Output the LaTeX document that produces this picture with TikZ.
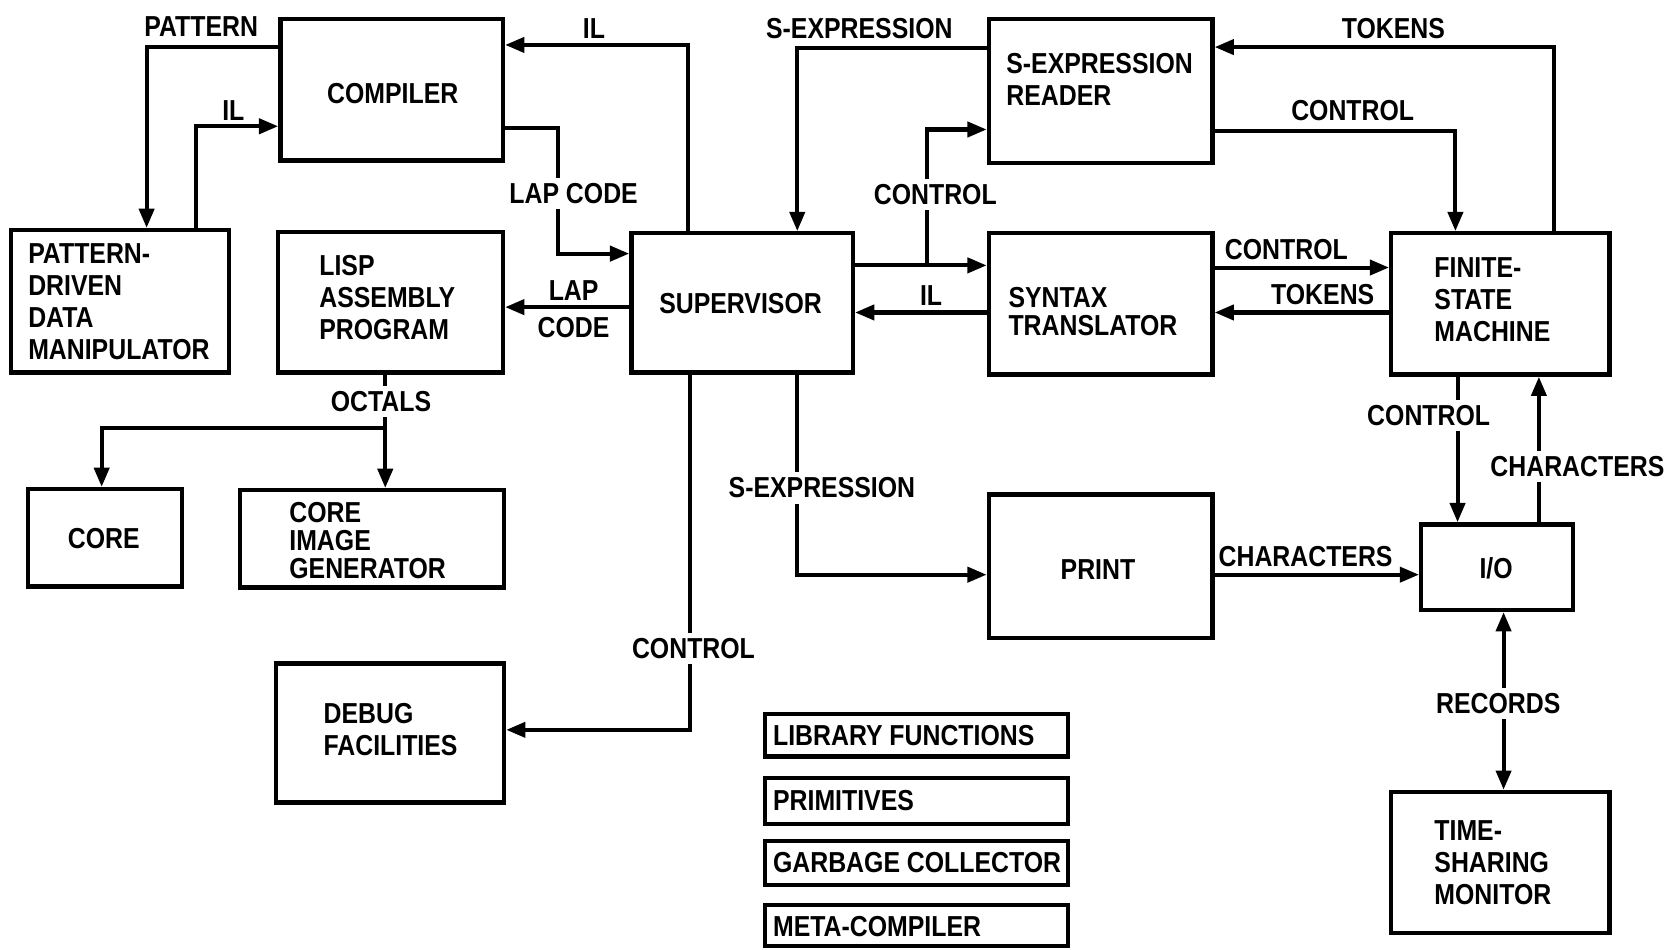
\documentclass[tikz,border=0pt]{standalone}
\usepackage{fontspec}
\setmainfont{Liberation Sans}[FakeStretch=0.86]
\usetikzlibrary{arrows.meta,fit}
\begin{document}
\begin{tikzpicture}[x=0.5pt,y=-0.5pt,
  box/.style={draw, line width=2pt, inner sep=0pt},
  ln/.style={line width=1.9pt},
  arr/.style={ln, -{Triangle[length=9pt,width=7pt]}},
  dbl/.style={ln, {Triangle[length=9pt,width=7pt]}-{Triangle[length=9pt,width=7pt]}},
  txt/.style={font=\fontsize{13.5}{15}\selectfont\bfseries, inner sep=1pt, align=left},
  tighttxt/.style={font=\fontsize{13.5}{13.2}\selectfont\bfseries, inner sep=1pt, align=left},
  lbl/.style={txt, align=center},
  lblw/.style={txt, align=center, fill=white, inner sep=2.5pt}]
\useasboundingbox (0,0) rectangle (1568,887);
% boxes
\node[box, fit={(262,18) (470,150)}] (comp) {};
\node[box, fit={(10,215) (214,348)}] (pddm) {};
\node[box, fit={(260,217) (470,348)}] (lap) {};
\node[box, fit={(590,218) (797,348)}] (sup) {};
\node[box, fit={(924,18) (1133,152)}] (sread) {};
\node[box, fit={(924,218) (1133,350)}] (syn) {};
\node[box, fit={(1300,218) (1504,350)}] (fsm) {};
\node[box, fit={(26,457) (170,548)}] (core) {};
\node[box, fit={(224,458) (471,549)}] (cig) {};
\node[box, fit={(258,620) (471,750)}] (dbg) {};
\node[box, fit={(924,462) (1133,596)}] (prt) {};
\node[box, fit={(1328,490) (1470,570)}] (io) {};
\node[box, fit={(1300,740) (1504,872)}] (tsm) {};
\node[box, fit={(715,667) (998,707)}] (lib) {};
\node[box, fit={(715,727) (998,770)}] (prim) {};
\node[box, fit={(715,786) (998,827)}] (gc) {};
\node[box, fit={(715,846) (998,884)}] (meta) {};
% box texts
\node[txt] (compT) at (367,87) {COMPILER};
\node[txt, anchor=west] (pddmT) at (24,282) {PATTERN-\\DRIVEN\\DATA\\MANIPULATOR};
\node[txt, anchor=west] (lapT) at (296,278) {LISP\\ASSEMBLY\\PROGRAM};
\node[txt] (supT) at (692,284) {SUPERVISOR};
\node[txt, anchor=west] (sreadT) at (938,74) {S-EXPRESSION\\READER};
\node[tighttxt, anchor=west] (synT) at (940,291) {SYNTAX\\TRANSLATOR};
\node[txt, anchor=west] (fsmT) at (1338,280) {FINITE-\\STATE\\MACHINE};
\node[txt] (coreT) at (97,503) {CORE};
\node[tighttxt, anchor=west] (cigT) at (268,505) {CORE\\IMAGE\\GENERATOR};
\node[txt, anchor=west] (dbgT) at (300,682) {DEBUG\\FACILITIES};
\node[txt] (prtT) at (1026,532) {PRINT};
\node[txt] (ioT) at (1398,531) {I/O};
\node[txt, anchor=west] (tsmT) at (1338,806) {TIME-\\SHARING\\MONITOR};
\node[txt, anchor=west] (libT) at (720,687) {LIBRARY FUNCTIONS};
\node[txt, anchor=west] (primT) at (720,748) {PRIMITIVES};
\node[txt, anchor=west] (gcT) at (720,806) {GARBAGE COLLECTOR};
\node[txt, anchor=west] (metaT) at (720,866) {META-COMPILER};
% connectors
\coordinate (c1) at (137,44);
\draw[arr] (comp.west |- c1) -- (c1) -- (pddm.north -| c1);
\coordinate (c2) at (183,118);
\draw[arr] (pddm.north -| c2) -- (c2) -- (comp.west |- c2);
\coordinate (c3) at (521,120); \coordinate (c4) at (521,237);
\draw[arr] (comp.east |- c3) -- (c3) -- (c4) -- (sup.west |- c4);
\coordinate (c5) at (643,42);
\draw[arr] (sup.north -| c5) -- (c5) -- (comp.east |- c5);
\coordinate (c6) at (0,287);
\draw[arr] (sup.west |- c6) -- (lap.east |- c6);
\coordinate (c7) at (745,45);
\draw[arr] (sread.west |- c7) -- (c7) -- (sup.north -| c7);
\coordinate (c8) at (866,248); \coordinate (c9) at (866,121);
\draw[arr] (sup.east |- c8) -- (syn.west |- c8);
\draw[arr] (c8) -- (c9) -- (sread.west |- c9);
\coordinate (c10) at (0,292);
\draw[arr] (syn.west |- c10) -- (sup.east |- c10);
\coordinate (c11) at (0,250);
\draw[arr] (syn.east |- c11) -- (fsm.west |- c11);
\coordinate (c12) at (0,292);
\draw[arr] (fsm.west |- c12) -- (syn.east |- c12);
\coordinate (c13) at (1452,44);
\draw[arr] (fsm.north -| c13) -- (c13) -- (sread.east |- c13);
\coordinate (c14) at (1360,122);
\draw[arr] (sread.east |- c14) -- (c14) -- (fsm.north -| c14);
\coordinate (c15) at (360,400); \coordinate (c16) at (95,400);
\draw[arr] (lap.south -| c15) -- (c15) -- (cig.north -| c15);
\draw[arr] (c15) -- (c16) -- (core.north -| c16);
\coordinate (c17) at (645,682);
\draw[arr] (sup.south -| c17) -- (c17) -- (dbg.east |- c17);
\coordinate (c18) at (745,537);
\draw[arr] (sup.south -| c18) -- (c18) -- (prt.west |- c18);
\coordinate (c19) at (0,537);
\draw[arr] (prt.east |- c19) -- (io.west |- c19);
\coordinate (c20) at (1362,0);
\draw[arr] (fsm.south -| c20) -- (io.north -| c20);
\coordinate (c21) at (1438,0);
\draw[arr] (io.north -| c21) -- (fsm.south -| c21);
\coordinate (c22) at (1405,0);
\draw[dbl] (io.south -| c22) -- (tsm.north -| c22);
% labels
\node[lbl] (l1) at (188,25) {PATTERN};
\node[lbl] (l2) at (218,103) {IL};
\node[lbl] (l3) at (555,27) {IL};
\node[lblw] (l4) at (536,181) {LAP CODE};
\node[font=\fontsize{13.5}{17}\selectfont\bfseries, align=center, inner sep=1pt] (l5) at (536,289) {LAP\\CODE};
\node[lbl] (l6) at (803,27) {S-EXPRESSION};
\node[lblw] (l7) at (874,182) {CONTROL};
\node[lbl] (l8) at (870,276) {IL};
\node[lbl] (l9) at (1202,233) {CONTROL};
\node[lbl] (l10) at (1236,275) {TOKENS};
\node[lbl] (l11) at (1302,27) {TOKENS};
\node[lbl] (l12) at (1264,103) {CONTROL};
\node[lblw] (l13) at (356,375) {OCTALS};
\node[lblw] (l14) at (648,606) {CONTROL};
\node[lblw] (l15) at (768,456) {S-EXPRESSION};
\node[lbl] (l16) at (1220,520) {CHARACTERS};
\node[lblw] (l17) at (1335,388) {CONTROL};
\node[lblw] (l18) at (1474,436) {CHARACTERS};
\node[lblw] (l19) at (1400,657) {RECORDS};
\end{tikzpicture}
\end{document}
